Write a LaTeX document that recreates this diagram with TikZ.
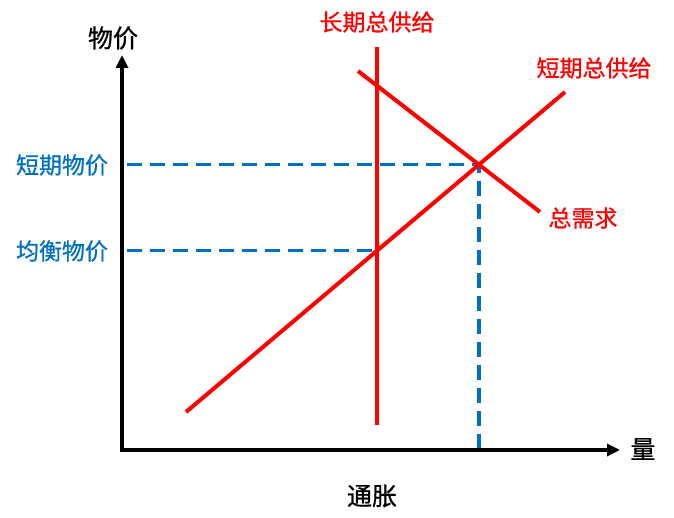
\documentclass[tikz,border=0pt]{standalone}
\usepackage{fontspec}
\setmainfont{Noto Sans CJK SC}[FakeBold=0.8]
\usetikzlibrary{arrows.meta,intersections}
\definecolor{curvered}{RGB}{255,0,0}
\definecolor{levelblue}{RGB}{0,112,192}
\tikzset{%
  axis/.style={draw=black,line width=1.6pt,-{Triangle[length=6.5pt,width=6pt]}},
  curve/.style={draw=curvered,line width=2pt},
  level/.style={draw=levelblue,line width=1.6pt,dash pattern=on 7.5pt off 4pt},
  redlabel/.style={text=curvered,font=\fontsize{11.5}{13}\selectfont,inner sep=0},
  bluelabel/.style={text=levelblue,font=\fontsize{11.5}{13}\selectfont,inner sep=0},
  axlabel/.style={text=black,font=\fontsize{12.5}{14}\selectfont,inner sep=0}
}

\begin{document}
\begin{tikzpicture}[x=0.5pt,y=-0.5pt]
    \useasboundingbox (0,0) rectangle (674,518);
    \path
      (122,450) coordinate (o) (122,55) coordinate (ytop) (620,450) coordinate (xend)
      (377,47) coordinate (lrtop) (377,425) coordinate (lrbot)
      (186,412) coordinate (sra) (565,92) coordinate (srb)
      (358,71) coordinate (ada) (540,212) coordinate (adb);
    \path[name path=lr] (lrtop) -- (lrbot);
    \path[name path=sr] (sra) -- (srb);
    \path[name path=ad] (ada) -- (adb);
    \path[name intersections={of=sr and lr,by=eq}];
    \path[name intersections={of=sr and ad,by=sh}];
    % price levels
    \draw[level] ([xshift=2.5pt]o |- sh) -- (sh) -- (sh |- o);
    \draw[level] ([xshift=2.5pt]o |- eq) -- (eq);
    % curves
    \draw[curve] (lrtop) -- (lrbot);
    \draw[curve] (sra) -- (srb);
    \draw[curve] (ada) -- (adb);
    % axes
    \draw[axis] (o) -- (ytop);
    \draw[axis] ([xshift=-0.8pt]o) -- (xend);
    \path
      (113,38) node[axlabel] (price) {物价}
      (643,449) node[axlabel] (qty) {量}
      (372,496) node[axlabel] (title) {通胀}
      (377,22) node[redlabel] (lrlab) {长期总供给}
      (594,68) node[redlabel] (srlab) {短期总供给}
      (583,218) node[redlabel] (adlab) {总需求}
      (62,165) node[bluelabel] (shlab) {短期物价}
      (62,251) node[bluelabel] (eqlab) {均衡物价};
  \end{tikzpicture}
\end{document}
